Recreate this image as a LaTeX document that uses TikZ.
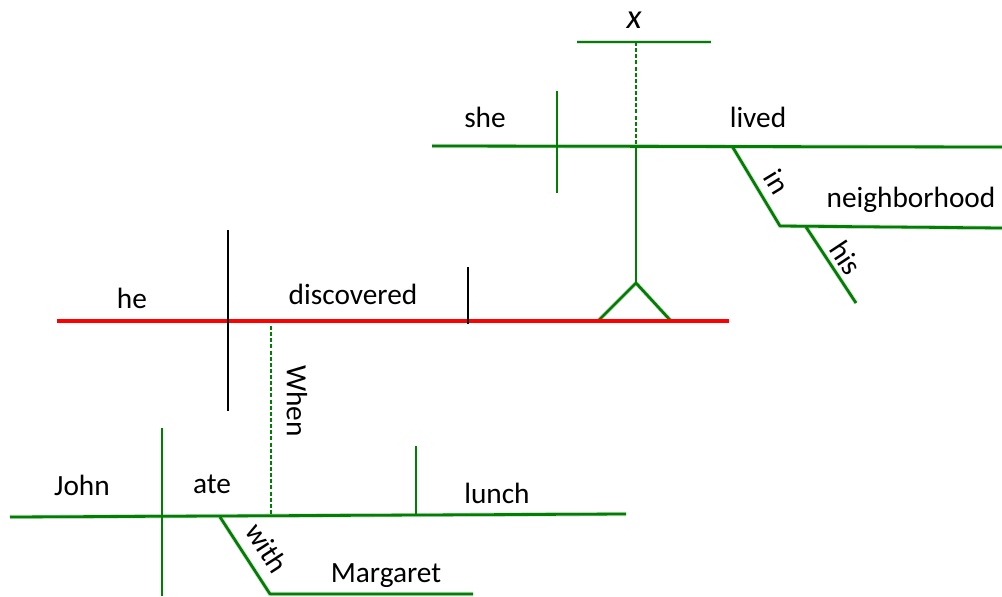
\documentclass[tikz,border=0pt]{standalone}
\usepackage{fontspec}
\setmainfont{Carlito}
\begin{document}
\begin{tikzpicture}[x=0.75pt,y=-0.75pt,
  font=\fontsize{22}{26}\selectfont,
  word/.style={inner sep=0pt,anchor=base},
  slantword/.style={inner sep=0pt,anchor=center},
  gline/.style={draw={rgb,255:red,0;green,128;blue,0},line width=2.1pt},
  rline/.style={draw={rgb,255:red,255;green,0;blue,0},line width=2.4pt},
  kline/.style={draw=black,line width=2pt},
  dline/.style={draw={rgb,255:red,0;green,128;blue,0},line width=1.8pt,dash pattern=on 3pt off 1.6pt},
  shadow/.style={draw=black,opacity=0.12,line width=3.4pt,shift={(1.5,3)}}]
\useasboundingbox (0,0) rectangle (1002,596);
% coordinates
\coordinate (t1) at (577,42);   \coordinate (t2) at (711,42);
\coordinate (tm) at (636,42);
\coordinate (u1) at (432,146);  \coordinate (u2) at (1002,147);
\coordinate (um) at (636,146);
\coordinate (vs1) at (557,91);  \coordinate (vs2) at (557,193);
\coordinate (ap) at (636,283);
\coordinate (al) at (598,321);  \coordinate (ar) at (671,321);
\coordinate (in1) at (732,146); \coordinate (in2) at (780,226);
\coordinate (nb2) at (1002,228);
\coordinate (hs1) at (806,227); \coordinate (hs2) at (856,303);
\coordinate (r1) at (57,321);   \coordinate (r2) at (729,321);
\coordinate (k1) at (228,230);  \coordinate (k2) at (228,411);
\coordinate (k3) at (468,267);  \coordinate (k4) at (468,324);
\coordinate (w1) at (271,326);  \coordinate (w2) at (271,514);
\coordinate (b1) at (10,517);   \coordinate (b2) at (626,514);
\coordinate (j1) at (162,428);  \coordinate (j2) at (162,596);
\coordinate (l1) at (416,446);  \coordinate (l2) at (416,515);
\coordinate (wi1) at (220,517); \coordinate (wi2) at (270,594);
\coordinate (m2) at (473,594);
% shadows
\path[shadow] (t1) -- (t2);
\path[shadow] (u1) -- (u2);
\path[shadow] (in1) -- (in2) -- (nb2);
\path[shadow] (hs1) -- (hs2);
\path[shadow] (r1) -- (r2);
\path[shadow] (b1) -- (b2);
\path[shadow] (wi1) -- (wi2) -- (m2);
\path[shadow] (al) -- (ap) -- (ar);
% lines
\path[gline] (t1) -- (t2);
\path[dline] (tm) -- (um);
\path[gline] (u1) -- (u2);
\path[gline] (vs1) -- (vs2);
\path[gline] (um) -- (ap);
\path[gline,line join=miter] (al) -- (ap) -- (ar);
\path[gline,line join=round] (in1) -- (in2) -- (nb2);
\path[gline] (hs1) -- (hs2);
\path[rline] (r1) -- (r2);
\path[kline] (k1) -- (k2);
\path[kline] (k3) -- (k4);
\path[dline] (w1) -- (w2);
\path[gline] (b1) -- (b2);
\path[gline] (j1) -- (j2);
\path[gline] (l1) -- (l2);
\path[gline,line join=round] (wi1) -- (wi2) -- (m2);
% words
\node[word,font=\fontsize{26}{30}\selectfont] (x) at (634,28) {\itshape x};
\node[word] (she) at (485,127) {she};
\node[word] (lived) at (758,127) {lived};
\node[word] (neigh) at (911,207) {neighborhood};
\node[slantword,rotate=-58.7] (in) at (777,182) {in};
\node[slantword,rotate=-56.5] (his) at (846,258) {his};
\node[word] (he) at (132,308) {he};
\node[word] (disc) at (353,304) {discovered};
\node[slantword,rotate=-90] (when) at (297,401) {When};
\node[word] (john) at (82,495) {John};
\node[word] (ate) at (212,493) {ate};
\node[word] (lunch) at (497,503) {lunch};
\node[slantword,rotate=-57] (with) at (267,548) {with};
\node[word] (marg) at (386,582) {Margaret};
\end{tikzpicture}
\end{document}
